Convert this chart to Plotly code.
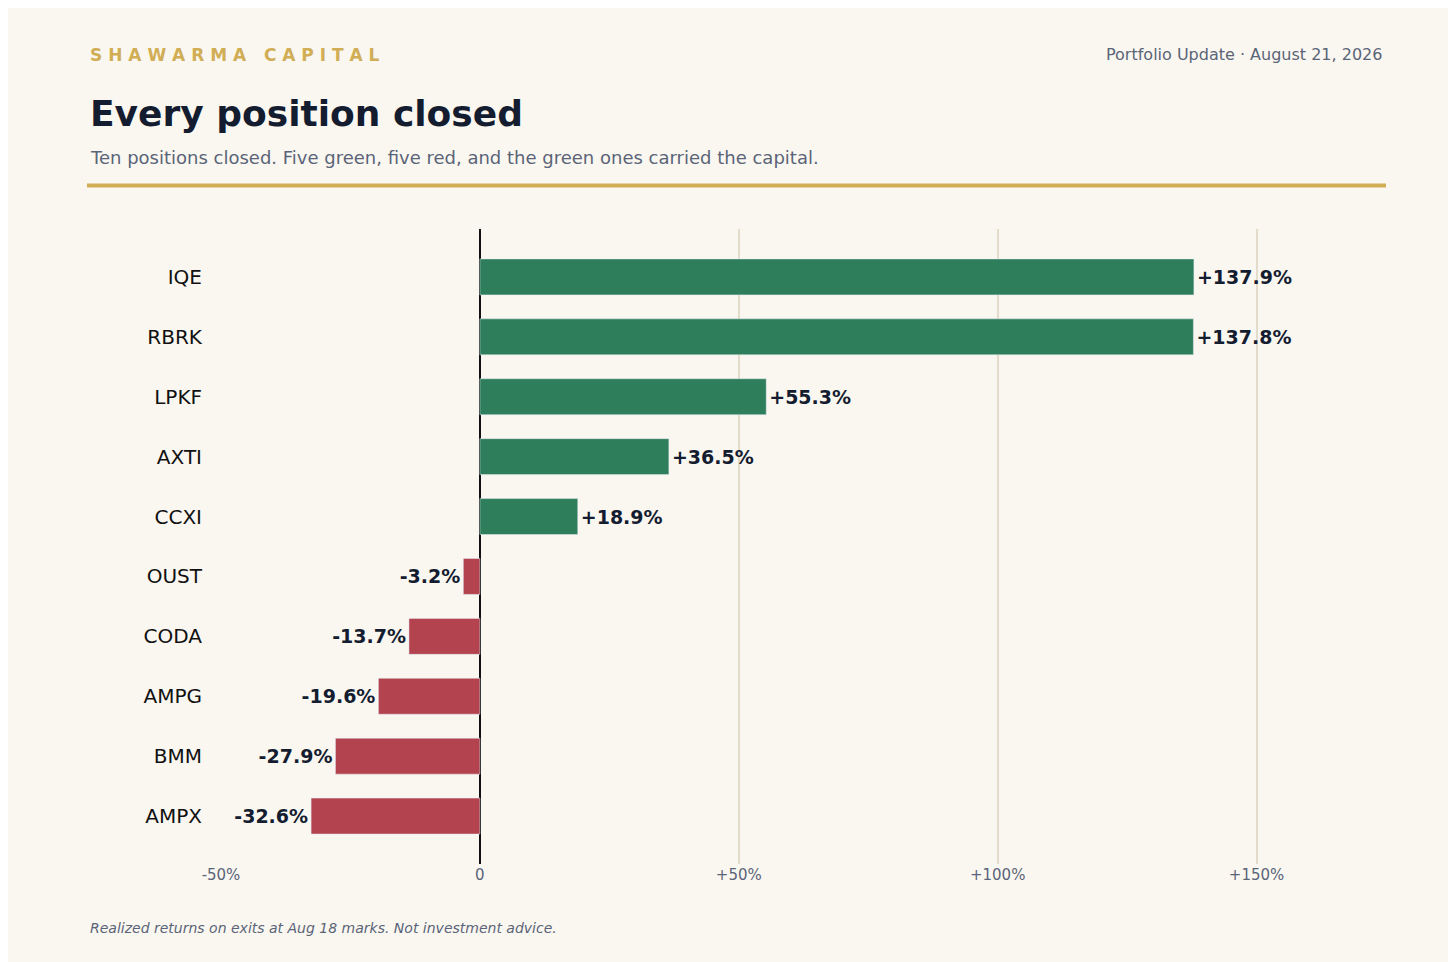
import plotly.graph_objects as go

tickers = ["IQE", "RBRK", "LPKF", "AXTI", "CCXI", "OUST", "CODA", "AMPG", "BMM", "AMPX"]
returns = [137.9, 137.8, 55.3, 36.5, 18.9, -3.2, -13.7, -19.6, -27.9, -32.6]
labels = [("+" if r > 0 else "") + f"{r:.1f}%" for r in returns]
colors = ["#2e7d5b" if r > 0 else "#b3444f" for r in returns]

tick_vals = [-50, 0, 50, 100, 150]
tick_text = ["-50%", "0", "+50%", "+100%", "+150%"]

W, H = 1456, 962
L, R, T, B = 213, 78, 221, 106
pw, ph = W - L - R, H - T - B


def px(x):
    return (x - L) / pw


def py(y):
    return 1 + (T - y) / ph


fig = go.Figure(go.Bar(
    x=returns, y=tickers, orientation="h", width=0.6,
    marker=dict(color=colors),
    text=labels, textposition="outside", cliponaxis=False,
    textfont=dict(size=19, color="#141c30", family="DejaVu Sans, sans-serif", weight="bold"),
))

fig.update_layout(
    width=W, height=H, margin=dict(l=L, r=R, t=T, b=B),
    paper_bgcolor="#faf7f0", plot_bgcolor="#faf7f0",
    font=dict(family="DejaVu Sans, sans-serif"),
    showlegend=False,
    xaxis=dict(range=[-50, 175], tickvals=tick_vals, ticktext=tick_text,
               gridcolor="#e3dccb", gridwidth=1.5, zeroline=True, zerolinecolor="#111111",
               zerolinewidth=2, tickfont=dict(size=15, color="#5a6478"), ticks="", ticklen=10,
               showline=False),
    yaxis=dict(autorange=False, range=[9.8, -0.8], tickfont=dict(size=20, color="#111111"),
               ticks="outside", ticklen=14, tickcolor="rgba(0,0,0,0)", showgrid=False),
    annotations=[
        dict(text="S H A W A R M A   C A P I T A L", x=px(80), y=py(47), xref="paper", yref="paper",
             xanchor="left", yanchor="middle", showarrow=False,
             font=dict(size=17, color="#d1ae55", weight="bold")),
        dict(text="Portfolio Update · August 21, 2026", x=px(1376), y=py(47), xref="paper", yref="paper",
             xanchor="right", yanchor="middle", showarrow=False,
             font=dict(size=16, color="#5a6478")),
        dict(text="Every position closed", x=px(80), y=py(105), xref="paper", yref="paper",
             xanchor="left", yanchor="middle", showarrow=False,
             font=dict(size=36, color="#141c30", weight="bold")),
        dict(text="Ten positions closed. Five green, five red, and the green ones carried the capital.",
             x=px(80), y=py(149), xref="paper", yref="paper",
             xanchor="left", yanchor="middle", showarrow=False,
             font=dict(size=18, color="#5a6478")),
        dict(text="<i>Realized returns on exits at Aug 18 marks. Not investment advice.</i>",
             x=px(80), y=py(920), xref="paper", yref="paper",
             xanchor="left", yanchor="middle", showarrow=False,
             font=dict(size=14, color="#5a6478")),
    ],
    shapes=[dict(type="line", xref="paper", yref="paper", x0=px(79), x1=px(1378),
                 y0=py(177.5), y1=py(177.5), line=dict(color="#d1ae55", width=4))],
)

fig.write_html("out.html")
